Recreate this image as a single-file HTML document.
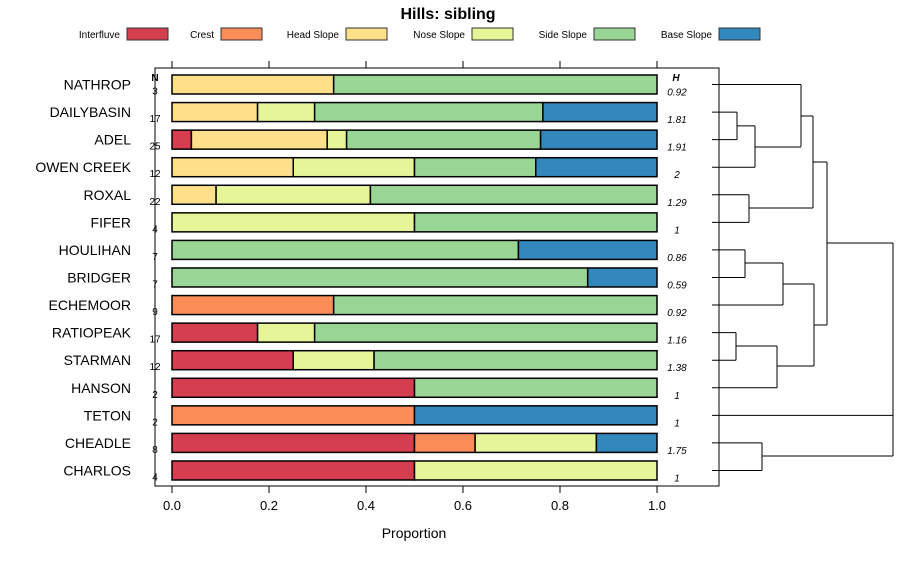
<!DOCTYPE html>
<html><head><meta charset="utf-8"><style>
body{margin:0;background:#fff;font-family:"Liberation Sans",sans-serif}
</style></head><body>
<svg id="c" width="900" height="560" xmlns="http://www.w3.org/2000/svg" font-family="Liberation Sans, sans-serif">
<text x="448" y="19" text-anchor="middle" font-size="16" font-weight="bold">Hills: sibling</text>
<g id="legend"></g>
<rect x="155" y="68" width="564" height="418" fill="none" stroke="#000"/>
<g id="bars"></g>
<g id="axis"></g>
<g id="dendro" stroke="#000" stroke-width="1" fill="none"></g>
<text x="155" y="81" text-anchor="middle" font-size="10" font-weight="bold">N</text>
<text x="676" y="81" text-anchor="middle" font-size="10" font-weight="bold" font-style="italic">H</text>
<text x="414" y="538" text-anchor="middle" font-size="14">Proportion</text>
</svg>
<script>
const classes=["Interfluve","Crest","Head Slope","Nose Slope","Side Slope","Base Slope"];
const colors=["#D53E4F","#FC8D59","#FEE08B","#E6F598","#99D594","#3288BD"];
const sites=["NATHROP","DAILYBASIN","ADEL","OWEN CREEK","ROXAL","FIFER","HOULIHAN","BRIDGER","ECHEMOOR","RATIOPEAK","STARMAN","HANSON","TETON","CHEADLE","CHARLOS"];
const nVals=[3,17,25,12,22,4,7,7,9,17,12,2,2,8,4];
const hVals=["0.92","1.81","1.91","2","1.29","1","0.86","0.59","0.92","1.16","1.38","1","1","1.75","1"];
const counts=[
[0,0,1,0,2,0],[0,0,3,2,8,4],[1,0,7,1,10,6],[0,0,3,3,3,3],[0,0,2,7,13,0],
[0,0,0,2,2,0],[0,0,0,0,5,2],[0,0,0,0,6,1],[0,3,0,0,6,0],[3,0,0,2,12,0],
[3,0,0,2,7,0],[1,0,0,0,1,0],[0,1,0,0,0,1],[4,1,0,2,0,1],[2,0,0,2,0,0]];
const ticks=[0,0.2,0.4,0.6,0.8,1.0];
const NS="http://www.w3.org/2000/svg";
const X=v=>172+v*485;
const Y=i=>84.5+i*27.57;
function mk(t,a,p){const e=document.createElementNS(NS,t);for(const k in a)e.setAttribute(k,a[k]);p.appendChild(e);return e;}
const leg=document.getElementById('legend');
const legBox=[127,221,346,472,594,719];
classes.forEach((c,i)=>{
 const t=mk('text',{x:legBox[i]-7,y:38,'text-anchor':'end','font-size':'10'},leg);t.textContent=c;
 
 
 const r=mk('rect',{x:legBox[i],y:28,width:41,height:12,fill:colors[i],stroke:'#333'},leg);
 
 
});
const bars=document.getElementById('bars');
sites.forEach((s,i)=>{
 const tot=counts[i].reduce((a,b)=>a+b,0);let cum=0;const y=Y(i);
 const lb=mk('text',{x:131,y:y+5,'text-anchor':'end','font-size':'14'},bars);lb.textContent=s;
 
 
 counts[i].forEach((c,k)=>{if(!c)return;const a=cum/tot,b=(cum+c)/tot;cum+=c;
  const r=mk('rect',{x:X(a),y:y-9.5,width:X(b)-X(a),height:19,fill:colors[k],stroke:'#000','stroke-width':1.5},bars);
  
  });
 const n=mk('text',{x:155,y:y+10,'text-anchor':'middle','font-size':'10'},bars);n.textContent=nVals[i];
 
 
 const h=mk('text',{x:677,y:y+11,'text-anchor':'middle','font-size':'10','font-style':'italic'},bars);h.textContent=hVals[i];
 
 
});
const ax=document.getElementById('axis');
ticks.forEach(t=>{
 const l1=mk('line',{x1:X(t),x2:X(t),y1:61,y2:68,stroke:'#000'},ax);
 
 
 const l2=mk('line',{x1:X(t),x2:X(t),y1:486,y2:493,stroke:'#000'},ax);
 
 
 const tx=mk('text',{x:X(t),y:510,'text-anchor':'middle','font-size':'13'},ax);tx.textContent=t.toFixed(1);
 
 
});
const d=document.getElementById('dendro');
const segs=[[712,0,801],[712,1,737],[712,2,737],[712,3,755],[712,4,749],[712,5,749],[712,6,745],[712,7,745],[712,8,783],[712,9,736],[712,10,736],[712,11,777],[712,12,893],[712,13,762],[712,14,762]];
segs.forEach(s=>mk('line',{x1:s[0],x2:s[2],y1:Y(s[1]),y2:Y(s[1])},d));
const V=[[737,Y(1),Y(2)],[755,(Y(1)+Y(2))/2,Y(3)],[801,Y(0),((Y(1)+Y(2))/2+Y(3))/2],
[749,Y(4),Y(5)],[813,116,208],[745,Y(6),Y(7)],[783,263,Y(8)],[736,Y(9),Y(10)],[777,346,Y(11)],
[814,284,366],[827,162,325],[762,Y(13),Y(14)],[893,243,456]];
V.forEach(v=>mk('line',{x1:v[0],x2:v[0],y1:v[1],y2:v[2]},d));
const H=[[737,755,(Y(1)+Y(2))/2],[755,801,147],[801,813,116],[749,813,208],[745,783,263],[783,814,284],[736,777,346],[777,814,366],[813,827,162],[814,827,325],[827,893,243],[762,893,456]];
H.forEach(h=>mk('line',{x1:h[0],x2:h[1],y1:h[2],y2:h[2]},d));
</script>
</body></html>
